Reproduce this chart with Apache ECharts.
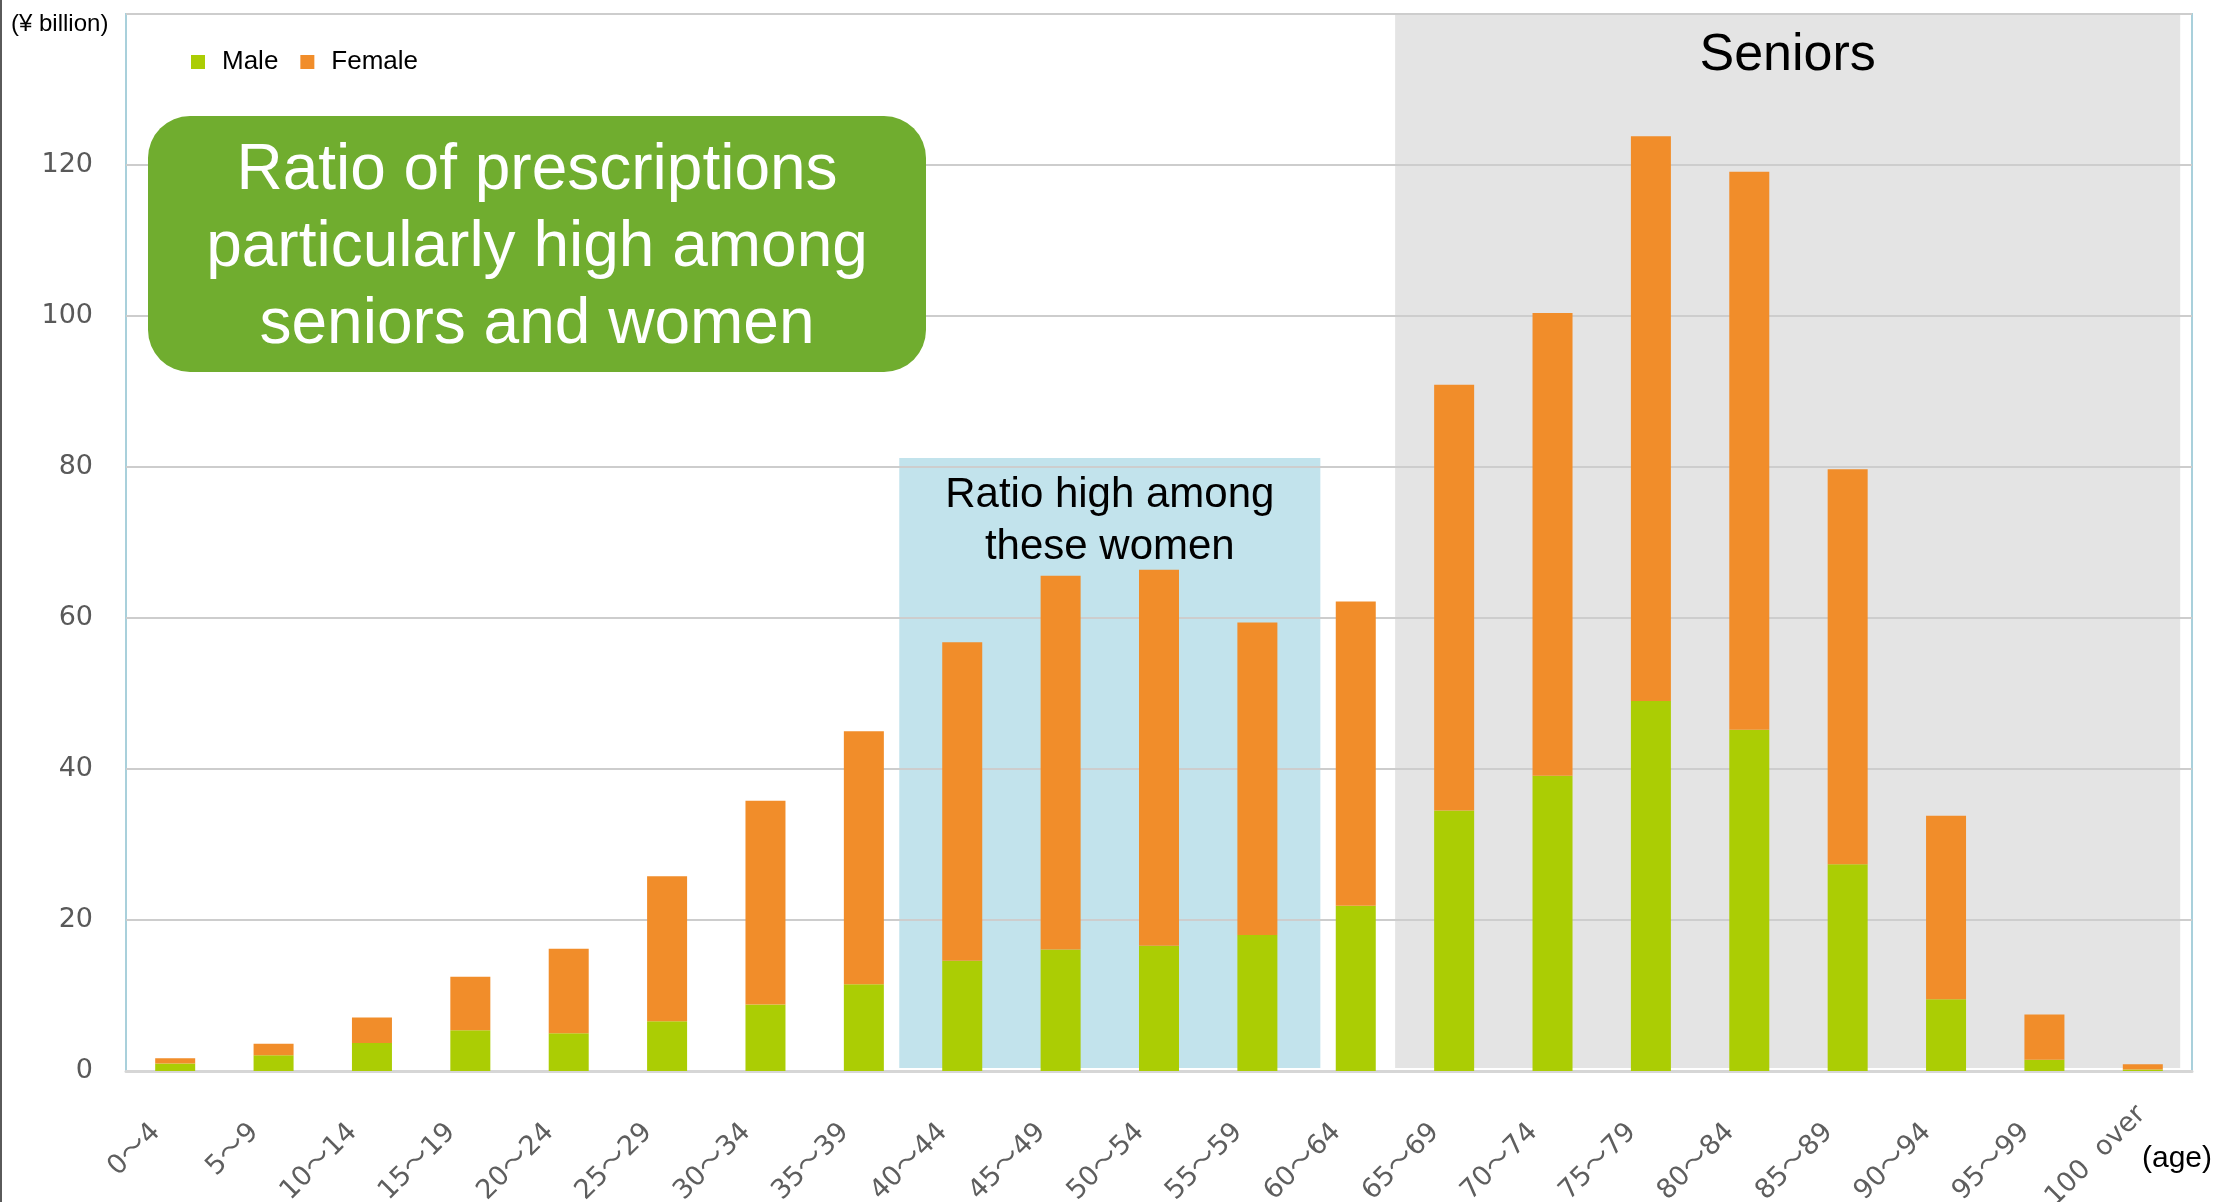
<!DOCTYPE html>
<html>
<head>
<meta charset="utf-8">
<title>Prescriptions by age</title>
<script src="https://cdn.jsdelivr.net/npm/echarts@6/dist/echarts.min.js"></script>
<style>
  html, body { margin: 0; padding: 0; background: #fff; }
  #main { width: 2216px; height: 1202px; }
</style>
</head>
<body>
<div id="main"></div>
<script>
// age groups on the x axis
var ageGroups = ['0〜4', '5〜9', '10〜14', '15〜19', '20〜24', '25〜29', '30〜34',
  '35〜39', '40〜44', '45〜49', '50〜54', '55〜59', '60〜64', '65〜69', '70〜74',
  '75〜79', '80〜84', '85〜89', '90〜94', '95〜99', '100  over'];

// ¥ billion
var maleValues = [1.0, 2.1, 3.7, 5.4, 5.0, 6.6, 8.8, 11.5, 14.6, 16.1, 16.6,
  18.0, 21.9, 34.5, 39.1, 49.0, 45.2, 27.4, 9.5, 1.5, 0.2];
var femaleValues = [0.7, 1.5, 3.4, 7.1, 11.2, 19.2, 27.0, 33.5, 42.2, 49.5, 49.8,
  41.4, 40.3, 56.4, 61.3, 74.8, 73.9, 52.3, 24.3, 6.0, 0.7];

// y axis
var yMax = 140;
var yStep = 20;

// shaded areas, in category-index units along x and value units along y
var shadeLabels = ['Ratio high among\nthese women', 'Seniors'];
var shadeX = [[7.86, 12.14], [12.9, 20.88]];
var shadeY = [[0.4, 81.2], [0.4, 139.9]];

var headline = 'Ratio of prescriptions\nparticularly high among\nseniors and women';

var FONT = '"Liberation Sans", Arial, sans-serif';
var AXIS_FONT = '"DejaVu Sans", "Noto Sans CJK JP", sans-serif';
var shadeColors = ['#c2e3ec', '#e4e4e4'];
var shadeFont = [{ size: 42, lh: 52 }, { size: 52, lh: 60 }];

var chart = echarts.init(document.getElementById('main'));

var shadeData = [];
for (var i = 0; i < shadeLabels.length; i++) {
  shadeData.push([shadeX[i][0], shadeX[i][1], shadeY[i][0], shadeY[i][1]]);
}

// last label sits a bit further out than the others
var categoryData = ageGroups.map(function (name, idx) {
  if (idx === ageGroups.length - 1) {
    return { value: name, textStyle: { padding: [0, 2, 0, 0] } };
  }
  return name;
});

function renderShade(params, api) {
  var k = params.dataIndex;
  var p0 = api.coord([api.value(0), api.value(3)]);
  var p1 = api.coord([api.value(1), api.value(2)]);
  return {
    type: 'rect',
    shape: { x: p0[0], y: p0[1], width: p1[0] - p0[0], height: p1[1] - p0[1] },
    style: { fill: shadeColors[k] },
    textContent: {
      style: {
        text: shadeLabels[k],
        fill: '#000',
        fontFamily: FONT,
        fontSize: shadeFont[k].size,
        lineHeight: shadeFont[k].lh,
        align: 'center'
      }
    },
    textConfig: { position: 'insideTop', distance: 11 }
  };
}

var option = {
  backgroundColor: '#fff',
  animation: false,
  grid: {
    left: 126,
    right: 24,
    top: 14,
    bottom: 131,
    outerBoundsMode: 'none',
    containLabel: false,
    show: true,
    borderColor: '#a9d0db',
    borderWidth: 2
  },
  legend: {
    data: ['Male', 'Female'],
    left: 186,
    top: 44,
    icon: 'rect',
    itemWidth: 14,
    itemHeight: 14,
    itemGap: 22,
    textStyle: { fontSize: 26, color: '#000', fontFamily: FONT, padding: [0, 0, 0, 12] }
  },
  xAxis: [{
    type: 'category',
    data: categoryData,
    axisTick: { show: false },
    axisLine: { lineStyle: { color: '#d6d6d6', width: 3 } },
    axisLabel: {
      interval: 0,
      rotate: 45,
      margin: 38,
      padding: [0, 27, 0, 0],
      fontSize: 27,
      color: '#5e5e5e',
      fontFamily: AXIS_FONT
    }
  }, {
    type: 'value',
    min: 0,
    max: ageGroups.length,
    show: false,
    position: 'top'
  }],
  yAxis: {
    type: 'value',
    min: 0,
    max: yMax,
    interval: yStep,
    axisLine: { show: false },
    axisTick: { show: false },
    splitLine: { lineStyle: { color: '#cdcdcd', width: 2 } },
    axisLabel: {
      margin: 33,
      fontSize: 27,
      color: '#595959',
      fontFamily: AXIS_FONT,
      formatter: function (v) { return v >= yMax ? '' : v; }
    }
  },
  graphic: [
    // thin dark edge on the left of the picture
    { type: 'rect', left: 0, top: 0, shape: { width: 2, height: 1202 }, style: { fill: '#5a5a5a' } },
    {
      type: 'text', left: 11, top: 12,
      style: { text: '(¥ billion)', fontSize: 24, fill: '#000', fontFamily: FONT }
    },
    {
      type: 'text', left: 2142, top: 1144,
      style: { text: '(age)', fontSize: 30, fill: '#000', fontFamily: FONT }
    },
    {
      type: 'group', left: 148, top: 116, z: 100,
      children: [{
        type: 'rect',
        z: 100,
        shape: { width: 778, height: 256, r: 42 },
        style: { fill: '#70ad2f' }
      }, {
        type: 'text',
        z: 101,
        x: 389, y: 132,
        style: {
          text: headline,
          fontSize: 64,
          lineHeight: 77,
          fill: '#fff',
          fontFamily: FONT,
          align: 'center',
          verticalAlign: 'middle'
        }
      }]
    }
  ],
  series: [{
    type: 'custom',
    name: 'areas',
    xAxisIndex: 1,
    yAxisIndex: 0,
    z: -1,
    silent: true,
    renderItem: renderShade,
    encode: { x: [0, 1], y: [2, 3] },
    data: shadeData
  }, {
    name: 'Male',
    type: 'bar',
    stack: 'total',
    barWidth: 40,
    itemStyle: { color: '#abcd04' },
    data: maleValues
  }, {
    name: 'Female',
    type: 'bar',
    stack: 'total',
    barWidth: 40,
    itemStyle: { color: '#f18d2a' },
    data: femaleValues
  }]
};

chart.setOption(option);
</script>
</body>
</html>
